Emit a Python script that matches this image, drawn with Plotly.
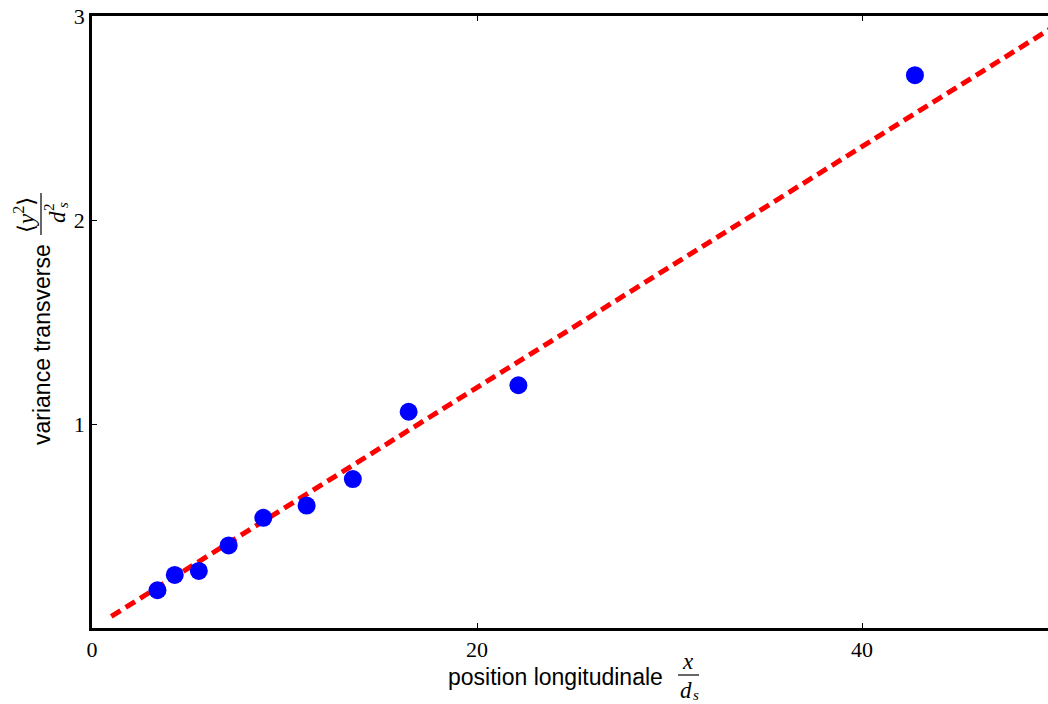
import plotly.graph_objects as go

# data
pos_x = [3.4, 4.3, 5.55, 7.1, 8.9, 11.15, 13.55, 16.45, 22.15, 42.75]
var_y = [0.185, 0.26, 0.28, 0.405, 0.54, 0.60, 0.73, 1.06, 1.19, 2.71]
fit_x = [1.0, 50.0]
fit_y = [0.057, 2.95]
x_ticks = [0, 20, 40]
y_ticks = [1, 2, 3]

W, H = 1048, 704
L, T, B = 92, 16, 76
PW = W - L
PH = H - T - B

def px(x):
    return (x - L) / PW

def py(y):
    return (H - B - y) / PH

fig = go.Figure()
fig.add_trace(go.Scatter(x=fit_x, y=fit_y, mode="lines",
                         line=dict(color="#ff0000", width=5, dash="11px,6px"),
                         showlegend=False, hoverinfo="skip"))
fig.add_trace(go.Scatter(x=pos_x, y=var_y, mode="markers",
                         marker=dict(color="#0000ff", size=18, line=dict(width=0)),
                         showlegend=False))

tick_font = dict(family="Liberation Serif, DejaVu Serif, serif", size=22, color="black")
fig.update_xaxes(range=[0, PW / 19.25], tickvals=x_ticks, ticks="inside", ticklen=5,
                 tickwidth=1, tickcolor="black", showline=True, linewidth=2.5,
                 linecolor="black", mirror="ticks", showgrid=False, zeroline=False,
                 tickfont=tick_font)
fig.update_yaxes(range=[0, 3], tickvals=y_ticks, ticks="inside", ticklen=5,
                 tickwidth=1, tickcolor="black", showline=True, linewidth=2.5,
                 linecolor="black", mirror=False, showgrid=False, zeroline=False,
                 tickfont=tick_font)

sans = dict(family="Liberation Sans, Arial, sans-serif", size=23, color="black")
serif = dict(family="Liberation Serif, DejaVu Serif, serif", size=23, color="black")
small = dict(family="Liberation Serif, DejaVu Serif, serif", size=15, color="black")

def a(x, y, text, font, angle=0):
    return dict(x=px(x), y=py(y), xref="paper", yref="paper", text=text, showarrow=False,
                font=font, textangle=angle, xanchor="center", yanchor="middle")

ann = [
    # x label
    a(555, 677, "position longitudinale", sans),
    a(688, 661, "<i>x</i>", serif),
    a(686, 690, "<i>d</i>", serif),
    a(696, 695, "<i>s</i>", small),
    # y label
    a(42, 345, "variance transverse", sans, -90),
    a(25, 215, "⟨<i>y</i><sup>2</sup>⟩", serif, -90),
    a(57, 217, "<i>d</i>", serif, -90),
    a(49, 207, "2", small, -90),
    a(63, 205, "<i>s</i>", small, -90),
]

shapes = [
    dict(type="line", xref="paper", yref="paper", x0=px(678), x1=px(699), y0=py(675), y1=py(675),
         line=dict(color="black", width=1.2)),
    dict(type="line", xref="paper", yref="paper", x0=px(41), x1=px(41), y0=py(193), y1=py(235),
         line=dict(color="black", width=1.2)),
]

fig.update_layout(width=W, height=H, margin=dict(l=L, r=0, t=T, b=B),
                  plot_bgcolor="white", paper_bgcolor="white",
                  annotations=ann, shapes=shapes)

fig.write_html("out.html", config={"displayModeBar": False},
               post_script="document.body.style.margin='0';document.body.style.padding='0';")
